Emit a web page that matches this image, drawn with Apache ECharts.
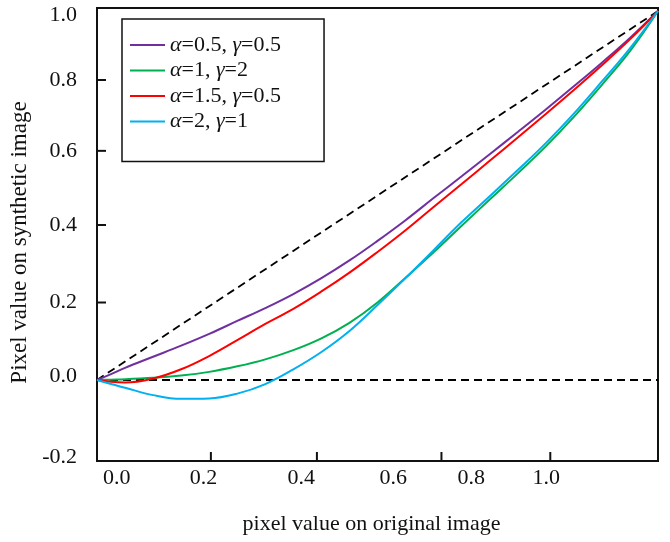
<!DOCTYPE html>
<html><head><meta charset="utf-8">
<script src="https://cdn.jsdelivr.net/npm/echarts@6/dist/echarts.min.js"></script>
<style>html,body{margin:0;padding:0;background:#fff}#c{width:670px;height:542px}</style>
</head><body><div id="c"></div>
<script>
// ---- data ----
const seriesNames = ['α=0.5, γ=0.5', 'α=1, γ=2', 'α=1.5, γ=0.5', 'α=2, γ=1'];
const seriesColors = ['#7030A0', '#00B050', '#FF0000', '#00B0F0'];
const xValues = [0, 0.025, 0.05, 0.10, 0.15, 0.20, 0.25, 0.30, 0.35, 0.40, 0.45, 0.50, 0.55, 0.60, 0.65, 0.70, 0.75, 0.80, 0.85, 0.90, 0.95, 1.0];
const purpleValues = [0, 0.016, 0.033, 0.063, 0.093, 0.125, 0.160, 0.195, 0.233, 0.276, 0.324, 0.377, 0.433, 0.493, 0.552, 0.612, 0.672, 0.733, 0.796, 0.860, 0.927, 1.0];
const greenValues  = [0, 0.001, 0.002, 0.006, 0.012, 0.022, 0.037, 0.056, 0.081, 0.113, 0.155, 0.210, 0.277, 0.346, 0.418, 0.489, 0.560, 0.633, 0.713, 0.800, 0.891, 1.0];
const redValues    = [0, -0.005, -0.007, 0.004, 0.029, 0.065, 0.108, 0.152, 0.193, 0.240, 0.291, 0.347, 0.406, 0.469, 0.531, 0.594, 0.657, 0.721, 0.786, 0.853, 0.923, 1.0];
const cyanValues   = [0, -0.011, -0.021, -0.041, -0.051, -0.050, -0.037, -0.011, 0.029, 0.076, 0.133, 0.203, 0.276, 0.352, 0.428, 0.498, 0.569, 0.642, 0.722, 0.809, 0.899, 1.0];
const refX = [0, 1];
const diagonalY = [0, 1];
const zeroY = [0, 0];
const xMin = 0, xMax = 1, yMin = -0.2195, yMax = 1.0081;
const xTickValues = [0.203, 0.392, 0.614, 0.808];
const xLabelValues = [0.035, 0.190, 0.364, 0.528, 0.667, 0.801];
const xLabelTexts = ['0.0', '0.2', '0.4', '0.6', '0.8', '1.0'];
const yTickValues = [0.813, 0.621, 0.420, 0.210];
const yLabelValues = [0.989, 0.813, 0.621, 0.420, 0.210, 0.010, -0.208];
const yLabelTexts = ['1.0', '0.8', '0.6', '0.4', '0.2', '0.0', '-0.2'];
const xTitle = 'pixel value on original image';
const yTitle = 'Pixel value on synthetic image';

// ---- chart ----
const FONT = "'Liberation Serif', 'Times New Roman', serif";
const TICK_LEN = 9;
function nearestText(v, vals, texts) {
  let best = 0;
  for (let i = 1; i < vals.length; i++) if (Math.abs(vals[i] - v) < Math.abs(vals[best] - v)) best = i;
  return texts[best];
}
const zip = (xs, ys) => xs.map((x, i) => [x, ys[i]]);
const curveValues = [purpleValues, greenValues, redValues, cyanValues];

const chart = echarts.init(document.getElementById('c'));
const series = curveValues.map((vals, k) => ({
  name: seriesNames[k],
  type: 'line',
  data: zip(xValues, vals),
  smooth: 0.4,
  symbol: 'none',
  lineStyle: {color: seriesColors[k], width: 2},
  itemStyle: {color: seriesColors[k]},
  z: 3
}));
series.push({
  type: 'line', data: zip(refX, diagonalY), symbol: 'none', silent: true,
  lineStyle: {color: '#000', width: 1.8, type: [8, 5]}, z: 2
});
series.push({
  type: 'line', data: zip(refX, zeroY), symbol: 'none', silent: true,
  lineStyle: {color: '#000', width: 1.8, type: [8, 5]}, z: 2
});
// inward tick marks on the frame, placed through the axis scales
series.push({
  type: 'custom',
  data: xTickValues.map(v => [v, yMin]),
  renderItem: (params, api) => {
    const p = api.coord([api.value(0), api.value(1)]);
    return {type: 'line', shape: {x1: p[0], y1: p[1], x2: p[0], y2: p[1] - TICK_LEN}, style: {stroke: '#111', lineWidth: 2}};
  }
});
series.push({
  type: 'custom',
  data: yTickValues.map(v => [xMin, v]),
  renderItem: (params, api) => {
    const p = api.coord([api.value(0), api.value(1)]);
    return {type: 'line', shape: {x1: p[0], y1: p[1], x2: p[0] + TICK_LEN, y2: p[1]}, style: {stroke: '#111', lineWidth: 2}};
  }
});

chart.setOption({
  animation: false,
  backgroundColor: '#fff',
  grid: {left: 97, top: 8, width: 561, height: 453, show: true, borderColor: '#111', borderWidth: 2},
  legend: {
    data: seriesNames,
    orient: 'vertical',
    left: 122, top: 19,
    padding: [15, 43, 29, 8],
    itemGap: 3.5,
    icon: 'rect',
    itemWidth: 35, itemHeight: 2,
    borderColor: '#111', borderWidth: 1.5, borderRadius: 0,
    backgroundColor: '#fff',
    formatter: name => name.replace(/α/g, '{i|α}').replace(/γ/g, '{i|γ}'),
    textStyle: {
      fontFamily: FONT, fontSize: 22, color: '#111', lineHeight: 22,
      rich: {i: {fontFamily: FONT, fontSize: 22, fontStyle: 'italic', color: '#111', lineHeight: 22}}
    }
  },
  xAxis: {
    type: 'value', min: xMin, max: xMax,
    name: xTitle, nameLocation: 'middle', nameGap: 52,
    nameTextStyle: {fontFamily: FONT, fontSize: 22, color: '#111', padding: [0, 12, 0, 0]},
    axisLine: {show: false, onZero: false},
    splitLine: {show: false},
    axisTick: {show: false},
    axisLabel: {
      customValues: xLabelValues, margin: 6,
      fontFamily: FONT, fontSize: 22, color: '#111',
      formatter: v => nearestText(v, xLabelValues, xLabelTexts)
    }
  },
  yAxis: {
    type: 'value', min: yMin, max: yMax,
    name: yTitle, nameLocation: 'middle', nameGap: 52,
    nameTextStyle: {fontFamily: FONT, fontSize: 23, color: '#111', padding: [0, 16, 0, 0]},
    axisLine: {show: false, onZero: false},
    splitLine: {show: false},
    axisTick: {show: false},
    axisLabel: {
      customValues: yLabelValues, margin: 20,
      fontFamily: FONT, fontSize: 22, color: '#111',
      formatter: v => nearestText(v, yLabelValues, yLabelTexts)
    }
  },
  series: series
});
</script></body></html>
